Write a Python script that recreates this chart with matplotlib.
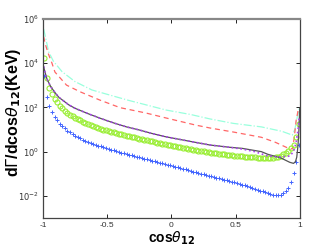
import numpy as np
import matplotlib
matplotlib.use('Agg')
import matplotlib.pyplot as plt

plt.rcParams['font.family'] = ['Liberation Sans', 'DejaVu Sans']
plt.rcParams['axes.unicode_minus'] = False

# log10 of dGamma/dcos(theta12)
x_cyan = [-0.995, -0.987, -0.956, -0.92, -0.852, -0.751, -0.619, -0.48, -0.34, -0.2,
          -0.04, 0.15, 0.3, 0.48, 0.7, 0.86, 0.94, 0.96, 0.98, 0.995]
y_cyan = [5.55, 5.35, 4.52, 4.1, 3.62, 3.17, 2.79, 2.56, 2.33, 2.12,
          1.88, 1.68, 1.48, 1.28, 1.12, 0.92, 0.75, 1.0, 1.6, 2.0]

x_red = [-0.995, -0.984, -0.96, -0.93, -0.907, -0.817, -0.712, -0.556, -0.4, -0.2,
         -0.04, 0.19, 0.3, 0.48, 0.7, 0.81, 0.9, 0.94, 0.955, 0.97, 0.99]
y_red = [5.2, 4.9, 4.45, 4.0, 3.6, 3.01, 2.71, 2.33, 1.99, 1.75,
         1.52, 1.2, 1.07, 0.89, 0.65, 0.42, 0.18, 0.12, 0.6, 1.4, 2.0]

x_black = [-0.995, -0.99, -0.97, -0.94, -0.9, -0.875, -0.8, -0.75, -0.65, -0.55,
           -0.45, -0.35, -0.25, -0.15, -0.05, 0.05, 0.15, 0.3, 0.45, 0.55,
           0.65, 0.7, 0.75, 0.85, 0.92, 0.95, 0.965, 0.975, 0.985, 0.992, 0.998]
y_black = [3.85, 3.72, 3.3, 2.94, 2.62, 2.45, 2.12, 1.96, 1.72, 1.5,
           1.3, 1.12, 0.98, 0.82, 0.68, 0.57, 0.46, 0.3, 0.2, 0.15,
           0.05, 0.0, -0.12, -0.28, -0.48, -0.53, -0.45, -0.25, 0.3, 1.0, 1.96]

x_purple = [-0.995, -0.99, -0.97, -0.94, -0.9, -0.875, -0.8, -0.75, -0.65, -0.55,
            -0.45, -0.35, -0.25, -0.15, -0.05, 0.05, 0.15, 0.3, 0.45, 0.55,
            0.65, 0.75, 0.85, 0.92, 0.95, 0.97, 0.985, 0.995]
y_purple = [3.85, 3.72, 3.3, 2.94, 2.62, 2.45, 2.12, 1.96, 1.72, 1.5,
            1.3, 1.12, 0.98, 0.82, 0.68, 0.57, 0.46, 0.3, 0.2, 0.12,
            0.0, -0.2, -0.24, -0.2, 0.0, 0.4, 1.0, 1.6]

x_pts = np.arange(100) * 0.02 - 0.99

y_green = [4.25, 3.32, 2.89, 2.61, 2.39, 2.23, 2.08, 1.96, 1.86, 1.76,
           1.68, 1.60, 1.53, 1.47, 1.41, 1.35, 1.30, 1.25, 1.20, 1.16,
           1.12, 1.08, 1.04, 1.00, 0.97, 0.93, 0.90, 0.87, 0.84, 0.81,
           0.78, 0.75, 0.73, 0.70, 0.68, 0.65, 0.62, 0.59, 0.57, 0.54,
           0.51, 0.49, 0.46, 0.43, 0.41, 0.38, 0.35, 0.33, 0.30, 0.28,
           0.26, 0.24, 0.22, 0.20, 0.18, 0.16, 0.13, 0.11, 0.09, 0.07,
           0.05, 0.03, 0.01, -0.01, -0.03, -0.04, -0.06, -0.08, -0.09, -0.11,
           -0.12, -0.14, -0.15, -0.17, -0.18, -0.19, -0.20, -0.21, -0.22, -0.23,
           -0.24, -0.25, -0.26, -0.27, -0.28, -0.28, -0.29, -0.29, -0.29, -0.28,
           -0.26, -0.23, -0.18, -0.12, -0.05, 0.03, 0.15, 0.32, 0.65, 1.25]

y_blue = [3.41, 2.49, 2.07, 1.79, 1.58, 1.41, 1.27, 1.15, 1.05, 0.95,
          0.87, 0.80, 0.73, 0.66, 0.60, 0.55, 0.49, 0.45, 0.40, 0.36,
          0.31, 0.27, 0.24, 0.20, 0.17, 0.13, 0.09, 0.06, 0.02, -0.01,
          -0.04, -0.08, -0.11, -0.14, -0.17, -0.20, -0.23, -0.26, -0.29, -0.32,
          -0.35, -0.38, -0.41, -0.44, -0.47, -0.50, -0.53, -0.56, -0.59, -0.62,
          -0.65, -0.68, -0.71, -0.74, -0.77, -0.80, -0.84, -0.87, -0.90, -0.93,
          -0.96, -0.99, -1.02, -1.05, -1.08, -1.11, -1.14, -1.17, -1.20, -1.23,
          -1.26, -1.29, -1.32, -1.35, -1.38, -1.41, -1.45, -1.49, -1.53, -1.57,
          -1.61, -1.65, -1.69, -1.73, -1.77, -1.80, -1.84, -1.88, -1.91, -1.94,
          -1.96, -1.96, -1.94, -1.89, -1.80, -1.65, -1.35, -0.98, -0.45, 0.30]

xticks = [-1, -0.5, 0, 0.5, 1]
xtick_labels = ['-1', '-0.5', '0', '0.5', '1']
yticks = [1e-2, 1e0, 1e2, 1e4, 1e6]
ytick_labels = ['$10^{-2}$', '$10^{0}$', '$10^{2}$', '$10^{4}$', '$10^{6}$']

fig = plt.figure(figsize=(3.32, 2.5), dpi=100)
ax = fig.add_axes([0.1295, 0.128, 0.774, 0.796])

ax.plot(x_cyan, 10 ** np.array(y_cyan), color='#99ffdd', lw=0.9, ls='-.')
ax.plot(x_red, 10 ** np.array(y_red), color='#ff6666', lw=0.9, ls=(0, (4, 3)))
ax.plot(x_pts, 10 ** np.array(y_green), ls='none', marker='o', ms=3.6,
        mfc='none', mec='#99ee33', mew=0.8)
ax.plot(x_pts, 10 ** np.array(y_blue), ls='none', marker='+', ms=3.0,
        color='#4466ff', mew=0.7)
ax.plot(x_black, 10 ** np.array(y_black), color='#555555', lw=0.9)
ax.plot(x_purple, 10 ** np.array(y_purple), color='#aa44ee', lw=1.2, ls=':')

ax.set_yscale('log')
ax.set_xlim(-1, 1)
ax.set_ylim(1e-3, 1e6)
ax.set_xticks(xticks)
ax.set_xticklabels(xtick_labels)
ax.set_yticks(yticks)
ax.set_yticklabels(ytick_labels)
ax.yaxis.set_minor_locator(matplotlib.ticker.NullLocator())
ax.tick_params(direction='in', length=3, width=0.6, labelsize=6,
               labelcolor='#333333', top=True, right=True, pad=3)

for side in ['left', 'bottom', 'right']:
    ax.spines[side].set_color('#444444')
    ax.spines[side].set_linewidth(0.9)
ax.spines['top'].set_color('#888888')
ax.spines['top'].set_linewidth(1.6)

ax.set_xlabel(r'cos$\theta_{\mathbf{12}}$', fontsize=10, fontweight='bold', va='center')
ax.xaxis.set_label_coords(0.5, -0.1)
ax.set_ylabel(r'd$\Gamma$/dcos$\theta_{\mathbf{12}}$(KeV)', fontsize=11.5,
              fontweight='bold', va='center')
ax.yaxis.set_label_coords(-0.115, 0.53)

fig.savefig('out.png', dpi=100)
